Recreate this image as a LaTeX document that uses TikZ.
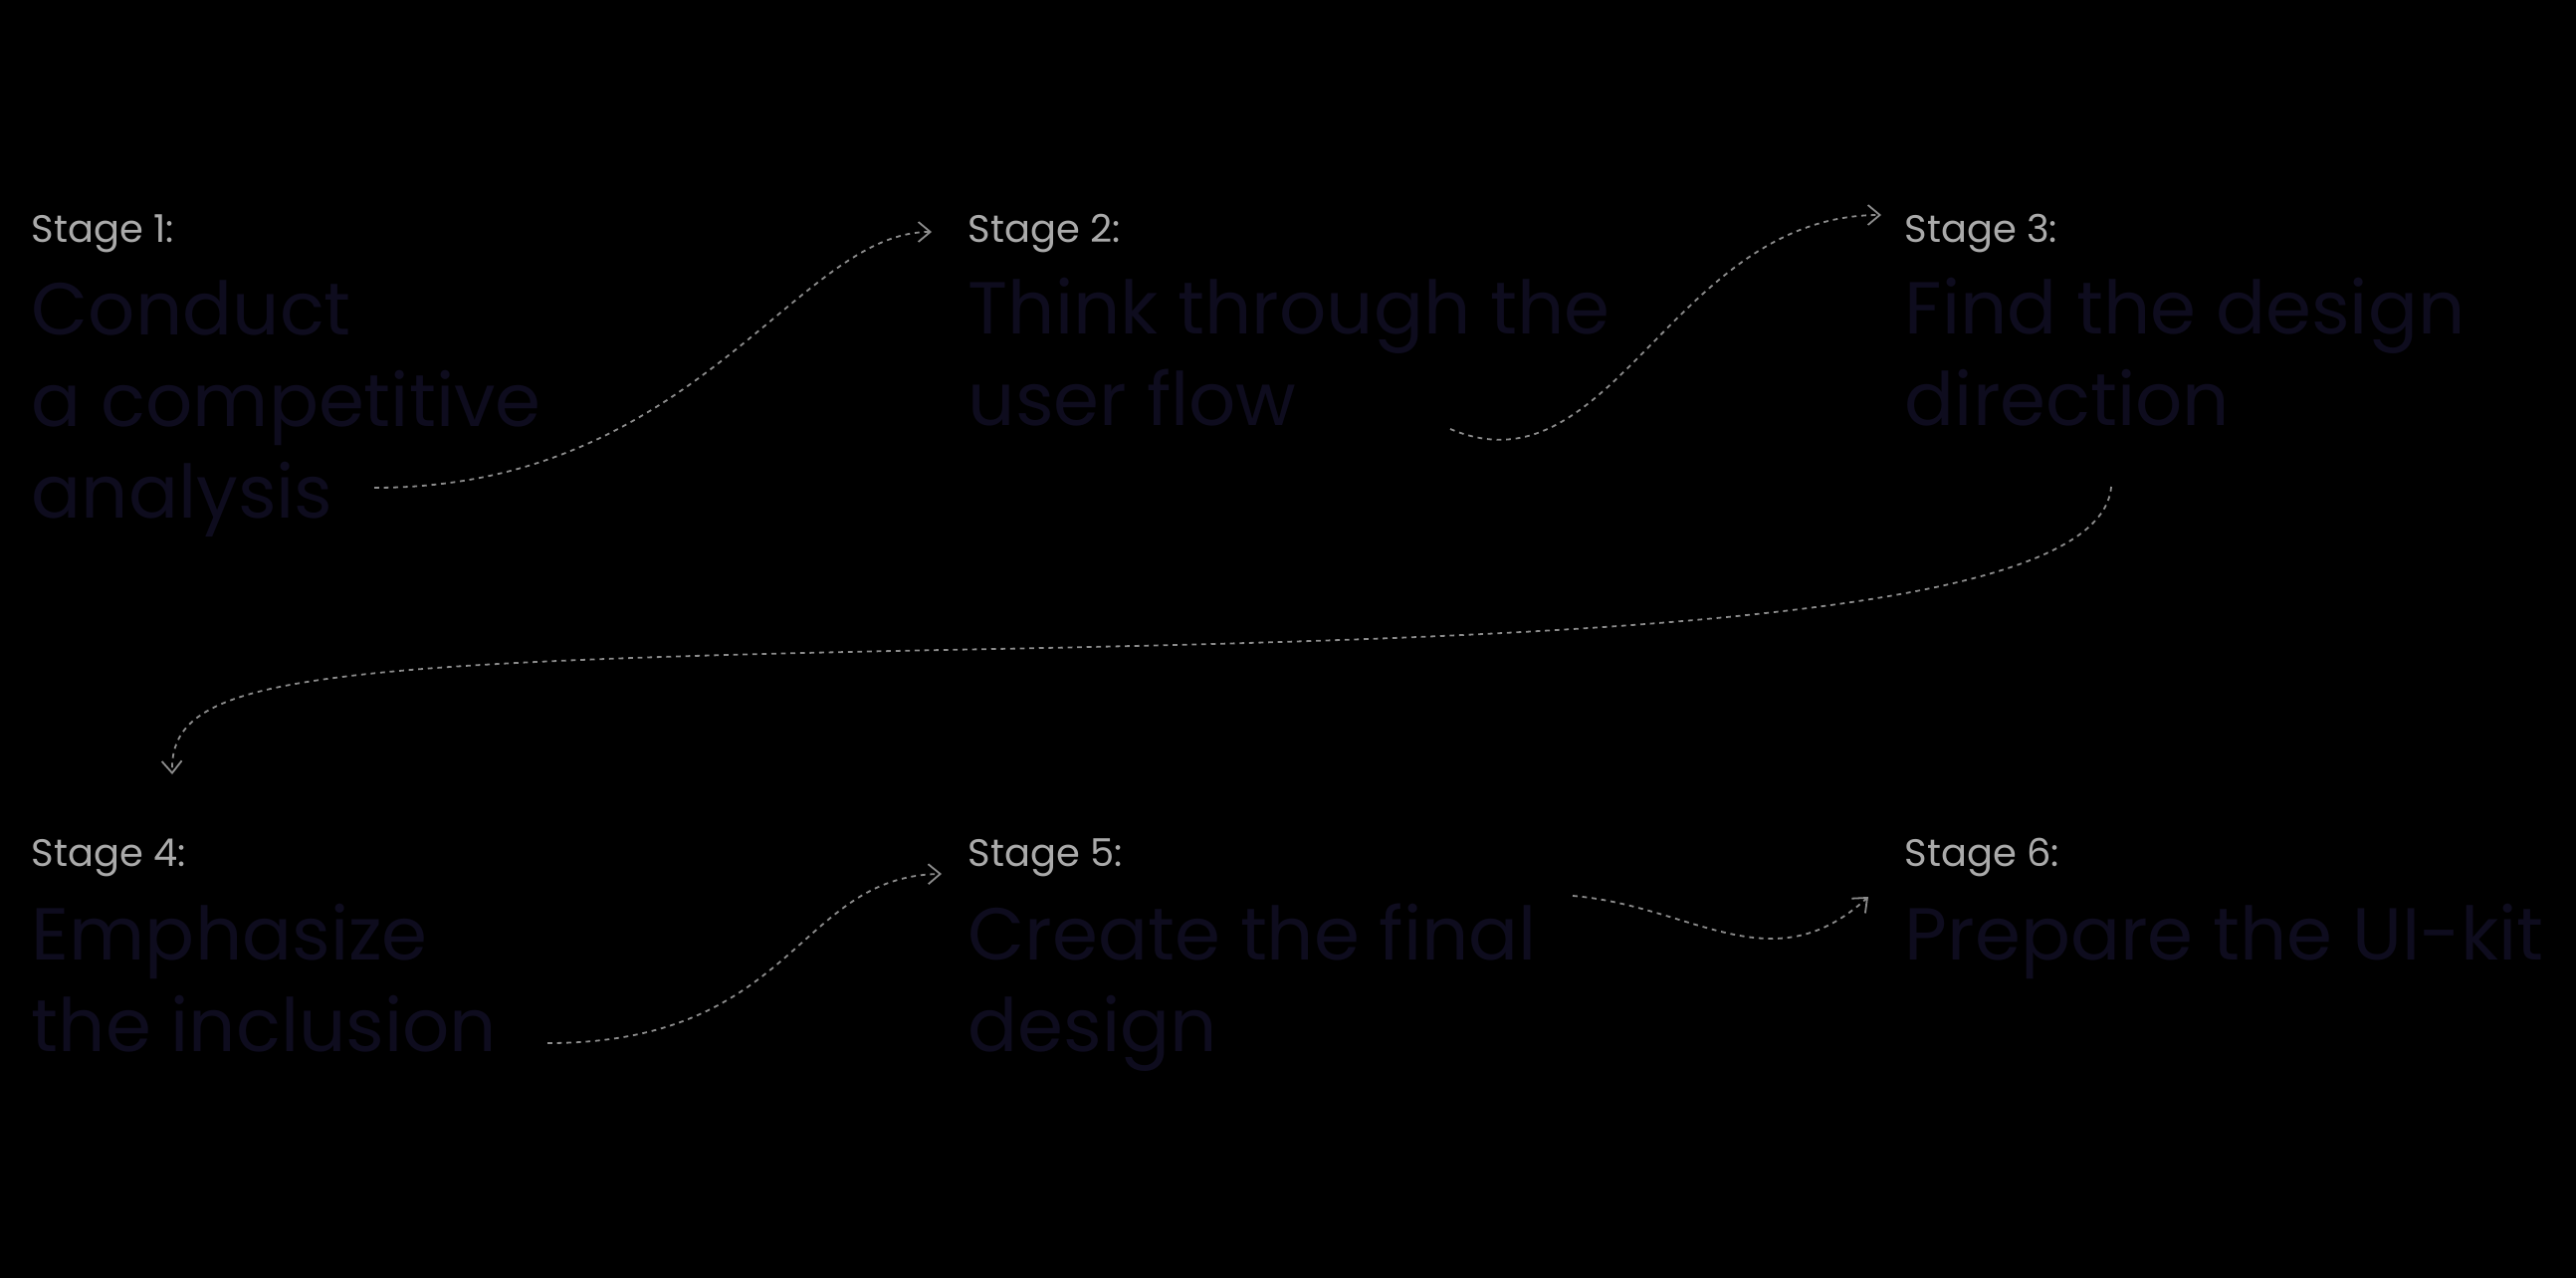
\documentclass[tikz,border=0pt]{standalone}
\usepackage{fontspec}
\setmainfont{Poppins}
\usetikzlibrary{arrows.meta}
\definecolor{stagegray}{RGB}{170,170,170}
\definecolor{taskblue}{RGB}{14,12,30}
\definecolor{flowgray}{RGB}{140,140,140}
\tikzset{
  stage/.style={anchor=base west,inner sep=0pt,text=stagegray,font=\fontsize{9.6}{12}\selectfont},
  task/.style={anchor=base west,inner sep=0pt,text=taskblue,align=left,font=\fontsize{18.5}{23}\selectfont},
  flow/.style={draw=flowgray,line width=0.45pt,dash pattern=on 1.2pt off 1.2pt,-{Straight Barb[length=3pt,width=5pt]}}
}
\begin{document}
\begin{tikzpicture}[x=0.25pt,y=0.25pt,yscale=-1,xscale=1]
\useasboundingbox (0,0) rectangle (2588,1284);
\fill[black] (0,0) rectangle (2588,1284);

%Stage labels
\node[stage] (s1) at (31,243) {Stage 1:};
\node[stage] (s2) at (972,243) {Stage 2:};
\node[stage] (s3) at (1913,243) {Stage 3:};
\node[stage] (s4) at (31,870) {Stage 4:};
\node[stage] (s5) at (972,870) {Stage 5:};
\node[stage] (s6) at (1913,870) {Stage 6:};

%Task texts (anchored at the last line)
\node[task] (t1) at (31,520) {Conduct\\a competitive\\analysis};
\node[task] (t2) at (972,427) {Think through the\\user flow};
\node[task] (t3) at (1913,427) {Find the design\\direction};
\node[task] (t4) at (31,1056) {Emphasize\\the inclusion};
\node[task] (t5) at (972,1056) {Create the final\\design};
\node[task] (t6) at (1913,964) {Prepare the UI-kit};

%Connector ends
\coordinate (a1) at (376,490);
\coordinate (b1) at (936,233);
\coordinate (a2) at (1457,431);
\coordinate (b2) at (1890,216);
\coordinate (a3) at (2121,489);
\coordinate (m3) at (1000,652);
\coordinate (b3) at (173,778);
\coordinate (a4) at (550,1048);
\coordinate (b4) at (946,878);
\coordinate (a5) at (1580,900);
\coordinate (b5) at (1877,901);

%Flow arrows
\draw[flow] (a1) .. controls (700,490) and (800,233) .. (b1);
\draw[flow] (a2) .. controls (1620,500) and (1680,216) .. (b2);
\draw[flow] (a3) .. controls (2110,620) and (1600,640) .. (m3) .. controls (300,665) and (170,680) .. (b3);
\draw[flow] (a4) .. controls (800,1048) and (800,880) .. (b4);
\draw[flow] (a5) .. controls (1700,910) and (1780,990) .. (b5);

\end{tikzpicture}
\end{document}
